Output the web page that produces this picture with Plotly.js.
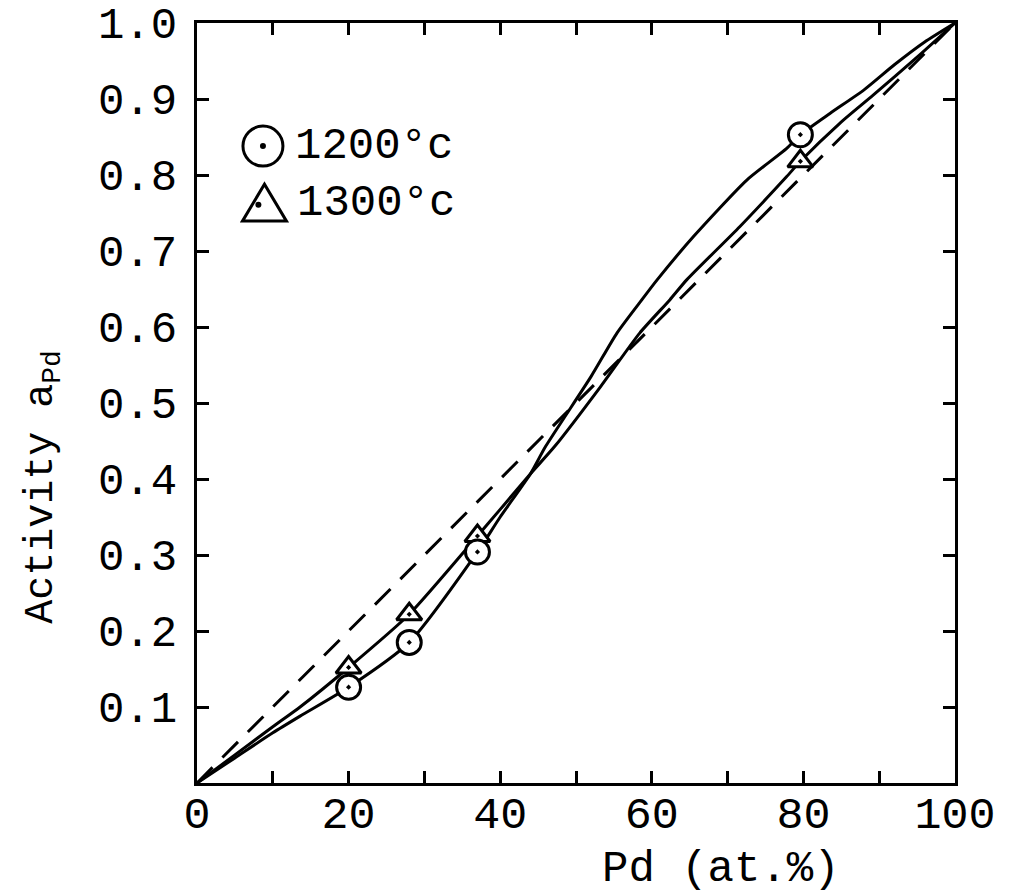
<!DOCTYPE html>
<html>
<head>
<meta charset="utf-8">
<script src="https://cdn.plot.ly/plotly-3.0.1.min.js"></script>
<style>html,body{margin:0;padding:0;background:#fff;}#chart{width:1019px;height:894px;}</style>
</head>
<body>
<div id="chart"></div>
<script>
// ---- data ----
const seriesNames = ['1200°c', '1300°c'];

// measured points
const ptX1200 = [20, 28, 37, 79.6];
const ptY1200 = [0.126, 0.185, 0.304, 0.853];
const ptX1300 = [20, 28, 37, 79.6];
const ptY1300 = [0.152, 0.222, 0.325, 0.818];

// smooth curves drawn through the points
const curveX1200 = [0, 5, 10, 13.6, 20, 28, 37, 40, 44, 46, 52, 55.4, 58.7, 60.7, 65.5, 72.5, 77.8, 79.6, 83.5, 88, 92, 96, 100];
const curveY1200 = [0, 0.033, 0.066, 0.088, 0.126, 0.185, 0.304, 0.35, 0.407, 0.443, 0.535, 0.592, 0.636, 0.662, 0.719, 0.793, 0.835, 0.853, 0.881, 0.912, 0.945, 0.975, 1.0];
const curveX1300 = [0, 5, 10, 13.6, 20, 28, 37, 40, 44, 47.2, 53.2, 58.4, 62.4, 64.6, 71.6, 77.8, 79.6, 84.8, 89.2, 95, 100];
const curveY1300 = [0, 0.037, 0.074, 0.1, 0.152, 0.222, 0.325, 0.36, 0.407, 0.443, 0.521, 0.592, 0.636, 0.662, 0.732, 0.798, 0.818, 0.868, 0.905, 0.955, 1.0];

// ideal (Raoult) line
const idealX = [0, 100];
const idealY = [0, 1];

// axis ticks
const xTickVals = [0, 10, 20, 30, 40, 50, 60, 70, 80, 90, 100];
const xTickText = ['0', ' ', '20', ' ', '40', ' ', '60', ' ', '80', ' ', '100'];
const yTickVals = [0, 0.1, 0.2, 0.3, 0.4, 0.5, 0.6, 0.7, 0.8, 0.9, 1.0];
const yTickText = [' ', '0.1', '0.2', '0.3', '0.4', '0.5', '0.6', '0.7', '0.8', '0.9', '1.0'];

const FONT = 'Liberation Mono, Courier New, monospace';
const INK = '#000000';

const traces = [
  {x: idealX, y: idealY, mode: 'lines', line: {color: INK, width: 3, dash: '22px,14px'}, showlegend: false, hoverinfo: 'skip'},
  {x: curveX1200, y: curveY1200, mode: 'lines', line: {color: INK, width: 3, shape: 'spline', smoothing: 0.6}, showlegend: false},
  {x: curveX1300, y: curveY1300, mode: 'lines', line: {color: INK, width: 3, shape: 'spline', smoothing: 0.6}, showlegend: false},
  {x: ptX1300, y: ptY1300, mode: 'markers', name: seriesNames[1],
   marker: {symbol: 'triangle-up-dot', size: 22, color: '#ffffff', line: {color: INK, width: 3}}, showlegend: false},
  {x: ptX1200, y: ptY1200, mode: 'markers', name: seriesNames[0],
   marker: {symbol: 'circle-dot', size: 24, color: '#ffffff', line: {color: INK, width: 3}}, showlegend: false}
];

const axisCommon = {
  showgrid: false, zeroline: false, showline: true, linecolor: INK, linewidth: 3,
  mirror: 'ticks', ticks: 'inside', ticklen: 12, tickwidth: 3, tickcolor: INK,
  tickmode: 'array', fixedrange: true
};

const layout = {
  width: 1019, height: 894,
  margin: {l: 197, r: 64, t: 23, b: 111},
  paper_bgcolor: '#ffffff', plot_bgcolor: '#ffffff',
  font: {family: FONT, color: INK},
  showlegend: false,
  xaxis: Object.assign({}, axisCommon, {
    range: [0, 100], tickvals: xTickVals, ticktext: xTickText,
    tickfont: {family: FONT, size: 45, color: INK}, ticklabelstandoff: -12
  }),
  yaxis: Object.assign({}, axisCommon, {
    range: [0, 1], tickvals: yTickVals, ticktext: yTickText,
    tickfont: {family: FONT, size: 44, color: INK}, ticklabelstandoff: 8
  }),
  annotations: [
    {text: 'Pd (at.%)', xref: 'paper', yref: 'paper', x: 0.691, y: -0.113, xanchor: 'center', yanchor: 'middle',
     showarrow: false, font: {family: FONT, size: 44, color: INK}},
    {text: 'Activity a<sub>Pd</sub>', xref: 'paper', yref: 'paper', x: -0.203, y: 0.39, xanchor: 'center', yanchor: 'middle',
     textangle: -90, showarrow: false, font: {family: FONT, size: 40, color: INK}},
    {text: seriesNames[0], xref: 'paper', yref: 'paper', x: 0.127, y: 0.838, xanchor: 'left', yanchor: 'middle',
     showarrow: false, font: {family: FONT, size: 44, color: INK}},
    {text: seriesNames[1], xref: 'paper', yref: 'paper', x: 0.129, y: 0.763, xanchor: 'left', yanchor: 'middle',
     showarrow: false, font: {family: FONT, size: 44, color: INK}}
  ],
  shapes: [
    {type: 'circle', xref: 'paper', yref: 'paper', xsizemode: 'pixel', ysizemode: 'pixel',
     xanchor: 0.087, yanchor: 0.838, x0: -20, x1: 20, y0: -20, y1: 20,
     line: {color: INK, width: 3}, fillcolor: 'rgba(0,0,0,0)'},
    {type: 'circle', xref: 'paper', yref: 'paper', xsizemode: 'pixel', ysizemode: 'pixel',
     xanchor: 0.087, yanchor: 0.838, x0: -3, x1: 3, y0: -3, y1: 3,
     line: {color: INK, width: 0}, fillcolor: INK},
    {type: 'path', xref: 'paper', yref: 'paper', xsizemode: 'pixel', ysizemode: 'pixel',
     xanchor: 0.089, yanchor: 0.763, path: 'M -22,-18 L 22,-18 L 0,19 Z',
     line: {color: INK, width: 3}, fillcolor: 'rgba(0,0,0,0)'},
    {type: 'circle', xref: 'paper', yref: 'paper', xsizemode: 'pixel', ysizemode: 'pixel',
     xanchor: 0.081, yanchor: 0.761, x0: -3, x1: 3, y0: -3, y1: 3,
     line: {color: INK, width: 0}, fillcolor: INK}
  ]
};

Plotly.newPlot('chart', traces, layout, {staticPlot: true, displayModeBar: false});
</script>
</body>
</html>
